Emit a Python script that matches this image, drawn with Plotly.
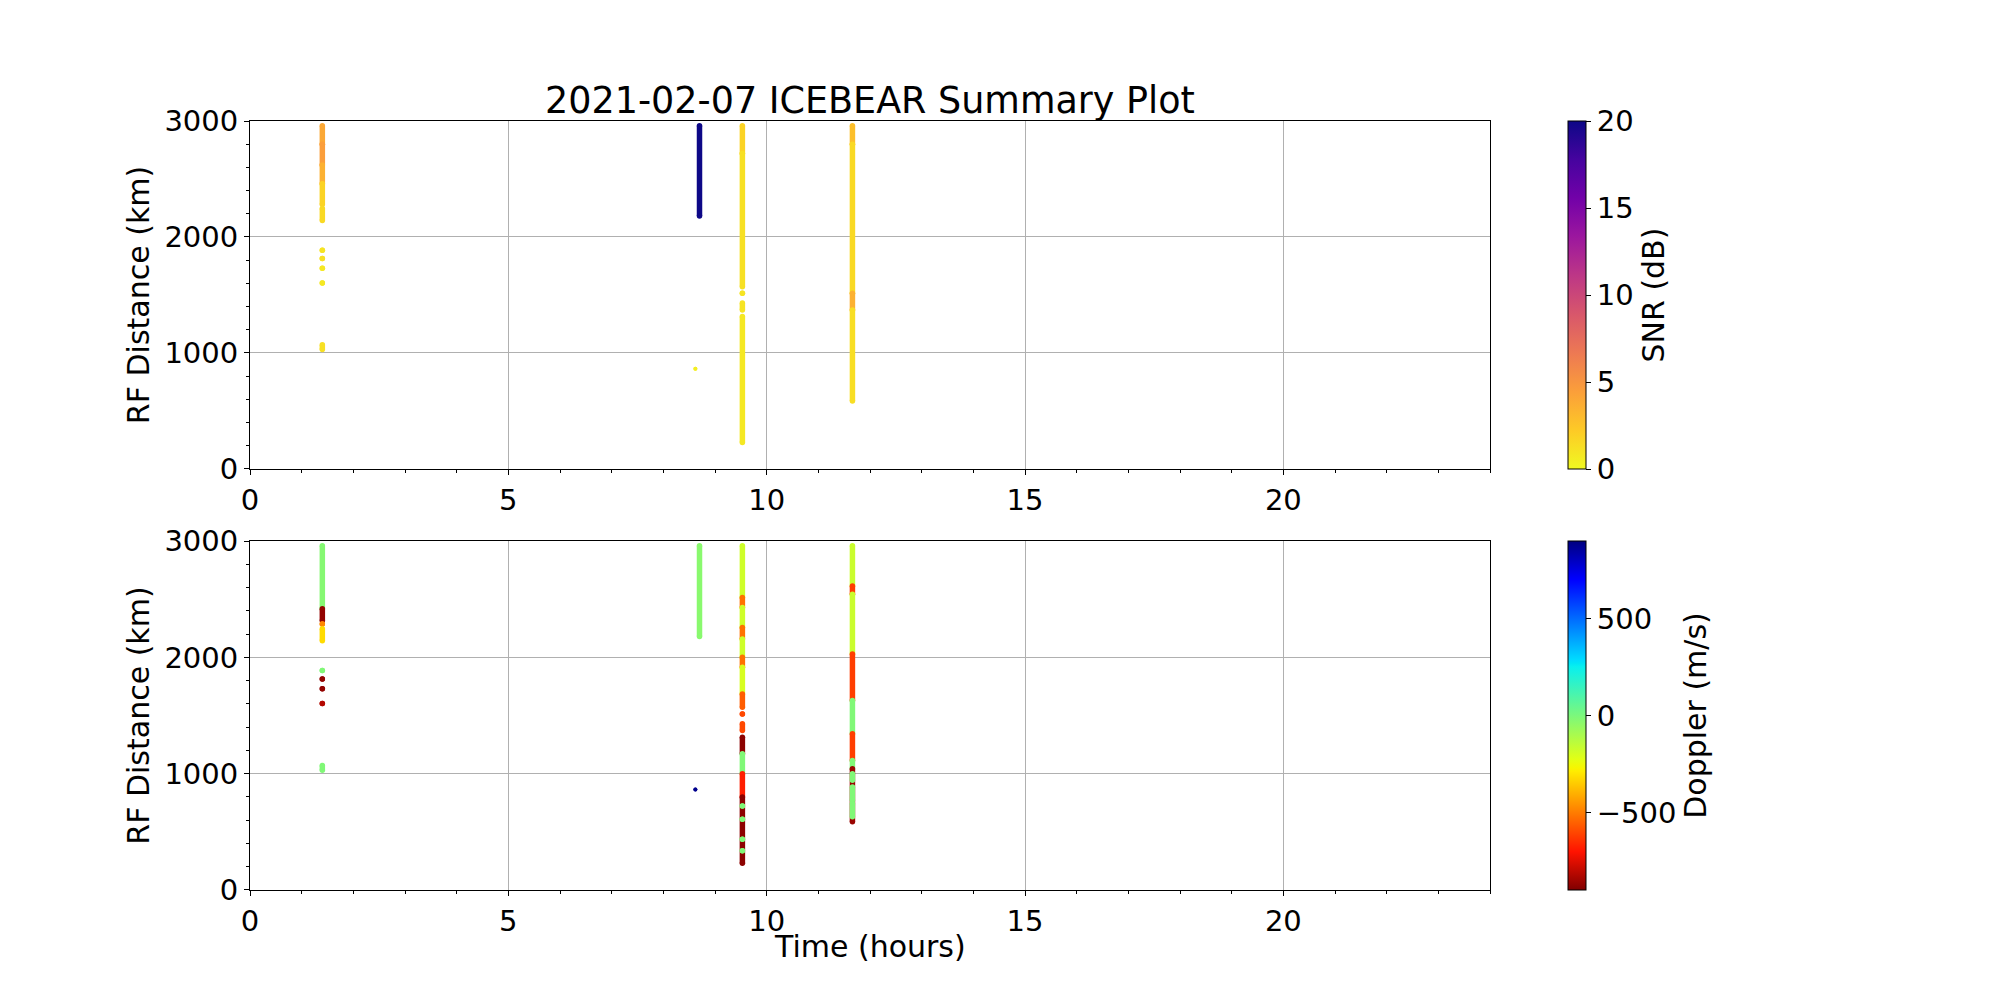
import numpy as np
import plotly.graph_objs as go

TITLE = "2021-02-07 ICEBEAR Summary Plot"

# SNR panel: vertical runs of echoes (time in hours, range start/end in km, SNR in dB)
snr_time = [1.40, 1.40, 1.40, 1.40, 1.40, 1.40, 1.40, 1.40, 1.40, 1.40,
            8.70, 8.62, 9.53, 9.53, 9.53, 9.53, 9.53, 11.66, 11.66, 11.66, 11.66]
snr_start = [2800, 2620, 2460, 2280, 2143, 1886, 1814, 1731, 1603, 1029,
             2180, 863, 2720, 1571, 1514, 1371, 229, 2800, 1514, 1371, 586]
snr_end = [2960, 2800, 2620, 2460, 2245, 1886, 1814, 1731, 1603, 1071,
           2960, 863, 2960, 2720, 1514, 1430, 1314, 2960, 2800, 1514, 1371]
snr_value = [4.0, 4.5, 3.5, 1.8, 1.5, 1.0, 1.2, 0.8, 0.8, 1.2,
             20.0, 0.5, 1.8, 1.2, 1.0, 1.0, 0.8, 2.8, 1.5, 3.5, 1.3]

# Doppler panel: same layout, Doppler velocity in m/s
dop_time = [1.40, 1.40, 1.40, 1.40, 1.40, 1.40, 1.40, 1.40, 1.40,
            8.70, 8.62,
            9.53, 9.53, 9.53, 9.53, 9.53, 9.53, 9.53, 9.53, 9.53, 9.53,
            9.53, 9.53, 9.53, 9.53, 9.53, 9.53, 9.53, 9.53,
            11.66, 11.66, 11.66, 11.66, 11.66, 11.66, 11.66, 11.66,
            11.66, 11.66, 11.66]
dop_start = [2417, 2314, 2286, 2143, 1886, 1814, 1731, 1603, 1029,
             2180, 863,
             2514, 2429, 2257, 2157, 2000, 1914, 1686, 1571, 1514, 1371,
             1171, 1000, 800, 229, 723, 609, 437, 337,
             2614, 2543, 2029, 1629, 1343, 1114, 1043, 586,
             943, 771, 629]
dop_end = [2960, 2417, 2286, 2245, 1886, 1814, 1731, 1603, 1071,
           2960, 863,
           2960, 2514, 2429, 2257, 2157, 2000, 1914, 1686, 1514, 1430,
           1314, 1171, 1000, 800, 723, 609, 437, 337,
           2960, 2614, 2543, 2029, 1629, 1343, 1114, 1043,
           1000, 886, 743]
dop_value = [-20, -870, -480, -320, -10, -870, -870, -820, -10,
             -30, 880,
             -180, -520, -180, -520, -180, -520, -200, -560, -600, -600,
             -880, -10, -680, -880, -10, -10, -10, -10,
             -170, -620, -170, -620, -10, -620, -10, -860,
             -10, -10, -10]

snr_ticks = [0, 5, 10, 15, 20]
dop_ticks = [-500, 0, 500]
dop_ticktext = ["\u2212500", "0", "500"]
x_ticks = [0, 5, 10, 15, 20]
y_ticks = [0, 1000, 2000, 3000]

FONT = "DejaVu Sans"
FS = 29      # tick labels
FT = 30      # axis / colorbar titles

# colour scales (matplotlib plasma reversed, matplotlib jet reversed)
plasma = ['#0d0887', '#46039f', '#7201a8', '#9c179e', '#bd3786',
          '#d8576b', '#ed7953', '#fb9f3a', '#fdca26', '#f0f921']


def hex_rgb(h):
    return [int(h[i:i + 2], 16) / 255 for i in (1, 3, 5)]


snr_pos = np.linspace(0, 1, len(plasma))
snr_rgb = np.array([hex_rgb(c) for c in plasma[::-1]])

jet_r = [(0, 0), (0.35, 0), (0.66, 1), (0.89, 1), (1, 0.5)]
jet_g = [(0, 0), (0.125, 0), (0.375, 1), (0.64, 1), (0.91, 0), (1, 0)]
jet_b = [(0, 0.5), (0.11, 1), (0.34, 1), (0.65, 0), (1, 0)]
jet_pos = sorted({p for ch in (jet_r, jet_g, jet_b) for p, _ in ch})


def chan(ch, t):
    return np.interp(t, [p for p, _ in ch], [v for _, v in ch])


dop_pos = np.array(jet_pos)
dop_rgb = np.array([[chan(c, 1 - p) for c in (jet_r, jet_g, jet_b)] for p in jet_pos])


def to_scale(pos, rgb):
    return [[float(p), "rgb(%d,%d,%d)" % tuple(np.round(c * 255))] for p, c in zip(pos, rgb)]


def color_at(pos, rgb, t):
    c = [np.interp(t, pos, rgb[:, k]) for k in range(3)]
    return "rgb(%d,%d,%d)" % tuple(np.round(np.array(c) * 255))


fig = go.Figure()


def add_runs(times, starts, ends, values, pos, rgb, vmin, vmax, axis, cax):
    for t, a, b, v in zip(times, starts, ends, values):
        col = color_at(pos, rgb, (v - vmin) / (vmax - vmin))
        size = 4 if a == b == 863 else 5.5
        fig.add_trace(go.Scatter(
            x=[t, t], y=[a, b], mode="lines+markers",
            line=dict(color=col, width=5.5),
            marker=dict(size=size, color=[v, v], coloraxis=cax, line=dict(width=0)),
            xaxis="x" + axis, yaxis="y" + axis, showlegend=False,
        ))


add_runs(snr_time, snr_start, snr_end, snr_value, snr_pos, snr_rgb, 0, 20, "", "coloraxis")
add_runs(dop_time, dop_start, dop_end, dop_value, dop_pos, dop_rgb, -900, 900, "2", "coloraxis2")

axis_common = dict(
    showline=True, linecolor="black", linewidth=1, mirror=True,
    ticks="outside", ticklen=5, tickwidth=1, tickcolor="black",
    showgrid=True, gridcolor="#b0b0b0", gridwidth=1, zeroline=False,
    automargin=False,
    tickfont=dict(family=FONT, size=FS, color="black"),
)
xax = dict(axis_common, range=[0, 24], tickvals=x_ticks,
           minor=dict(dtick=1, tick0=0, ticks="outside", ticklen=3, tickcolor="black", showgrid=False))
yax = dict(axis_common, range=[0, 3000], tickvals=y_ticks,
           minor=dict(dtick=200, tick0=0, ticks="outside", ticklen=3, tickcolor="black", showgrid=False),
           title=dict(text="RF Distance (km)", font=dict(family=FONT, size=FT, color="black"), standoff=5))

cbar_common = dict(
    x=1.0629, xanchor="left", xpad=0, ypad=0, thickness=18, lenmode="fraction",
    outlinewidth=1, outlinecolor="black", ticks="outside", ticklen=5, tickcolor="black",
    tickfont=dict(family=FONT, size=FS, color="black"),
)

# plot area: x 250..1490 px, y 121..890 px on the page (page body adds an 8 px offset)
fig.update_layout(
    width=2000, height=1000,
    margin=dict(l=242, r=518, t=113, b=118),
    paper_bgcolor="white", plot_bgcolor="white",
    font=dict(family=FONT, size=FS, color="black"),
    xaxis=dict(xax, domain=[0, 1], anchor="y"),
    yaxis=dict(yax, domain=[0.5475, 1], anchor="x"),
    xaxis2=dict(xax, domain=[0, 1], anchor="y2"),
    yaxis2=dict(yax, domain=[0, 0.4538], anchor="x2"),
    coloraxis=dict(
        colorscale=to_scale(snr_pos, snr_rgb), cmin=0, cmax=20,
        colorbar=dict(cbar_common, y=0.7737, yanchor="middle", len=0.4525,
                      tickvals=snr_ticks,
                      title=dict(text="SNR (dB)", side="right", font=dict(family=FONT, size=FT))),
    ),
    coloraxis2=dict(
        colorscale=to_scale(dop_pos, dop_rgb), cmin=-900, cmax=900,
        colorbar=dict(cbar_common, y=0.2269, yanchor="middle", len=0.4538,
                      tickvals=dop_ticks, ticktext=dop_ticktext,
                      title=dict(text="Doppler (m/s)", side="right", font=dict(family=FONT, size=FT))),
    ),
    annotations=[
        dict(text=TITLE, x=0.5, y=1, xref="paper", yref="paper",
             xanchor="center", yanchor="bottom", yshift=-3, showarrow=False,
             font=dict(family=FONT, size=36.5, color="black")),
        dict(text="Time (hours)", x=0.5, y=-0.0741, xref="paper", yref="paper",
             xanchor="center", yanchor="middle", showarrow=False,
             font=dict(family=FONT, size=FT, color="black")),
    ],
)

fig.write_html("out.html")
